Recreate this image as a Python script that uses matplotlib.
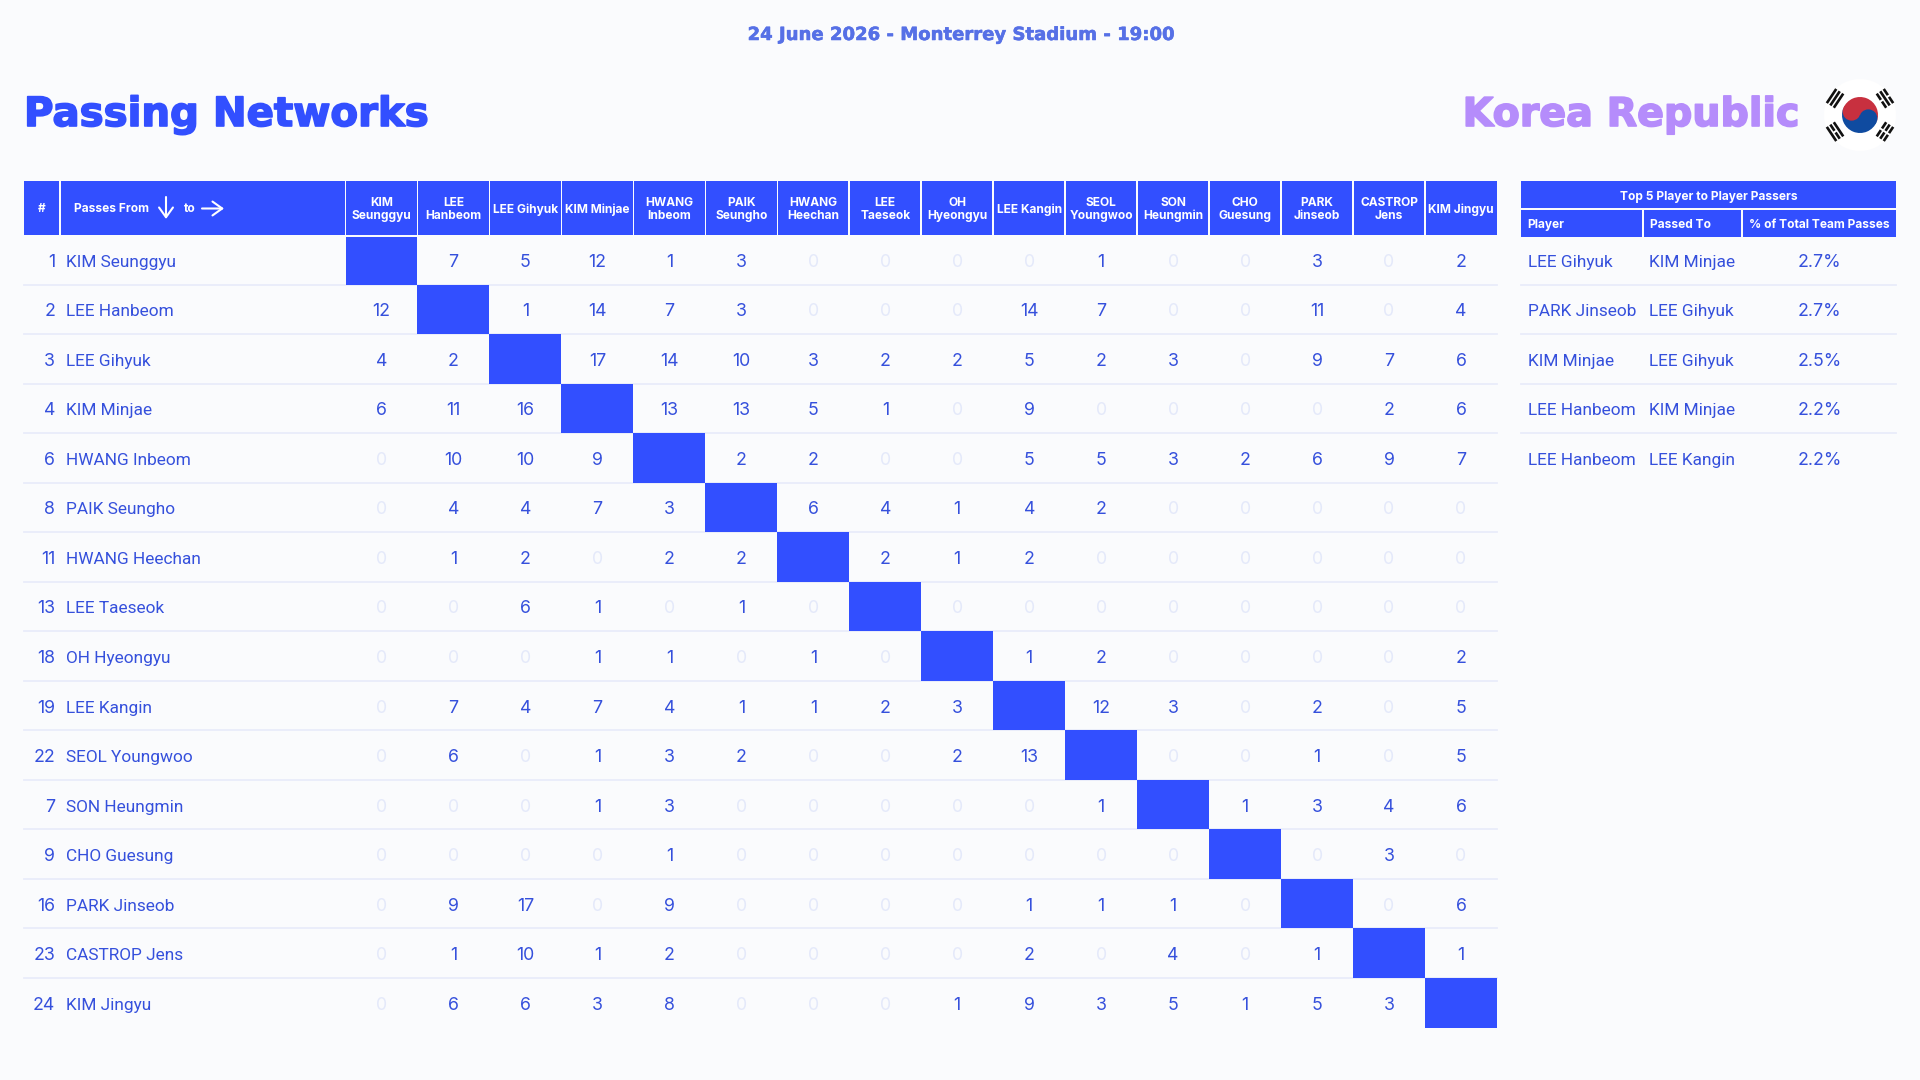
import numpy as np
import matplotlib
matplotlib.use("Agg")
import matplotlib.pyplot as plt
import matplotlib.patheffects as pe
from matplotlib.patches import Rectangle, Circle, Wedge

numbers = [1, 2, 3, 4, 6, 8, 11, 13, 18, 19, 22, 7, 9, 16, 23, 24]
players = ["KIM Seunggyu", "LEE Hanbeom", "LEE Gihyuk", "KIM Minjae", "HWANG Inbeom", "PAIK Seungho",
           "HWANG Heechan", "LEE Taeseok", "OH Hyeongyu", "LEE Kangin", "SEOL Youngwoo", "SON Heungmin",
           "CHO Guesung", "PARK Jinseob", "CASTROP Jens", "KIM Jingyu"]
column_labels = ["KIM\nSeunggyu", "LEE\nHanbeom", "LEE Gihyuk", "KIM Minjae", "HWANG\nInbeom", "PAIK\nSeungho",
                 "HWANG\nHeechan", "LEE\nTaeseok", "OH\nHyeongyu", "LEE Kangin", "SEOL\nYoungwoo", "SON\nHeungmin",
                 "CHO\nGuesung", "PARK\nJinseob", "CASTROP\nJens", "KIM Jingyu"]
N = None
passes = [
    [N, 7, 5, 12, 1, 3, 0, 0, 0, 0, 1, 0, 0, 3, 0, 2],
    [12, N, 1, 14, 7, 3, 0, 0, 0, 14, 7, 0, 0, 11, 0, 4],
    [4, 2, N, 17, 14, 10, 3, 2, 2, 5, 2, 3, 0, 9, 7, 6],
    [6, 11, 16, N, 13, 13, 5, 1, 0, 9, 0, 0, 0, 0, 2, 6],
    [0, 10, 10, 9, N, 2, 2, 0, 0, 5, 5, 3, 2, 6, 9, 7],
    [0, 4, 4, 7, 3, N, 6, 4, 1, 4, 2, 0, 0, 0, 0, 0],
    [0, 1, 2, 0, 2, 2, N, 2, 1, 2, 0, 0, 0, 0, 0, 0],
    [0, 0, 6, 1, 0, 1, 0, N, 0, 0, 0, 0, 0, 0, 0, 0],
    [0, 0, 0, 1, 1, 0, 1, 0, N, 1, 2, 0, 0, 0, 0, 2],
    [0, 7, 4, 7, 4, 1, 1, 2, 3, N, 12, 3, 0, 2, 0, 5],
    [0, 6, 0, 1, 3, 2, 0, 0, 2, 13, N, 0, 0, 1, 0, 5],
    [0, 0, 0, 1, 3, 0, 0, 0, 0, 0, 1, N, 1, 3, 4, 6],
    [0, 0, 0, 0, 1, 0, 0, 0, 0, 0, 0, 0, N, 0, 3, 0],
    [0, 9, 17, 0, 9, 0, 0, 0, 0, 1, 1, 1, 0, N, 0, 6],
    [0, 1, 10, 1, 2, 0, 0, 0, 0, 2, 0, 4, 0, 1, N, 1],
    [0, 6, 6, 3, 8, 0, 0, 0, 1, 9, 3, 5, 1, 5, 3, N],
]
top_from = ["LEE Gihyuk", "PARK Jinseob", "KIM Minjae", "LEE Hanbeom", "LEE Hanbeom"]
top_to = ["KIM Minjae", "LEE Gihyuk", "LEE Gihyuk", "KIM Minjae", "LEE Kangin"]
top_pct = ["2.7%", "2.7%", "2.5%", "2.2%", "2.2%"]

BG = "#FAFBFD"; BLUE = "#324FFF"; TEXT = "#3550DC"; ZERO = "#E4E9FA"; LINE = "#E9ECFA"; LILAC = "#B58CFB"
plt.rcParams["font.family"] = ["Inter", "DejaVu Sans"]
NAME_FONT = ["Roboto", "DejaVu Sans"]
NAME_SIZE = 12.4

fig = plt.figure(figsize=(19.2, 10.8), dpi=100, facecolor=BG)
ax = fig.add_axes([0, 0, 1, 1])
ax.set_xlim(0, 1920); ax.set_ylim(1080, 0); ax.axis("off")

L, C1, C2, R = 24, 60, 345.5, 1497
HT, HB, RB = 181, 235, 1027.5
cw = (R - C2) / 16
rh = (RB - HB) / 16
DY = 2.5

def hdr(x0, x1, y0, y1):
    ax.add_patch(Rectangle((x0, y0), x1 - x0, y1 - y0, fc=BLUE, ec="none", zorder=2))

# main header
hdr(L, C1 - 0.8, HT, HB); hdr(C1 + 0.8, C2 - 0.8, HT, HB)
ax.text((L + C1) / 2, 209.5, "#", color="white", fontsize=8.5, fontweight="bold", ha="center", va="center", zorder=3)
ax.text(73.5, 209, "Passes From", color="white", fontsize=8.6, fontweight="bold", ha="left", va="center", zorder=3)
ax.text(183.5, 209, "to", color="white", fontsize=8.6, fontweight="bold", ha="left", va="center", zorder=3)
ap = dict(arrowstyle="->,head_length=0.7,head_width=0.5", color="white", lw=1.5, shrinkA=0, shrinkB=0)
ax.annotate("", xy=(166, 219), xytext=(166, 197), arrowprops=ap, zorder=3)
ax.annotate("", xy=(224, 208.5), xytext=(202, 208.5), arrowprops=ap, zorder=3)

for j, lab in enumerate(column_labels):
    x0 = C2 + j * cw
    hdr(x0 + (0.8 if j else 0), x0 + cw - (0.8 if j < 15 else 0), HT, HB)
    ax.text(x0 + cw / 2, 209.5, lab, color="white", fontsize=8.6, fontweight="bold", ha="center", va="center",
            linespacing=1.15, zorder=3)

# rows
for i, row in enumerate(passes):
    yc = HB + (i + 0.5) * rh + DY
    if i < 15:
        ax.plot([L, R], [HB + (i + 1) * rh] * 2, color=LINE, lw=1.3, zorder=1)
    ax.text(55, yc, str(numbers[i]), color=TEXT, fontsize=12.8, ha="right", va="center", zorder=3)
    ax.text(66.5, yc, players[i], color=TEXT, fontsize=NAME_SIZE, family=NAME_FONT, ha="left", va="center", zorder=3)
    for j, v in enumerate(row):
        xc = C2 + (j + 0.5) * cw
        if v is None:
            ax.add_patch(Rectangle((C2 + j * cw, HB + i * rh + (1.5 if i == 0 else 0)), cw, rh - (1.5 if i == 0 else 0),
                                   fc=BLUE, ec="none", zorder=2))
        else:
            ax.text(xc, yc, str(v), color=ZERO if v == 0 else TEXT, fontsize=12.8, ha="center", va="center", zorder=3)

# right table
TL, TC1, TC2, TR = 1521, 1643, 1742, 1896
hdr(TL, TR, 181, 207.7)
ax.text((TL + TR) / 2, 197, "Top 5 Player to Player Passers", color="white", fontsize=8.6, fontweight="bold",
        ha="center", va="center", zorder=3)
hdr(TL, TC1 - 0.8, 210, 237); hdr(TC1 + 0.8, TC2 - 0.8, 210, 237); hdr(TC2 + 0.8, TR, 210, 237)
ax.text(1527.5, 225, "Player", color="white", fontsize=8.6, fontweight="bold", ha="left", va="center", zorder=3)
ax.text(1650, 225, "Passed To", color="white", fontsize=8.6, fontweight="bold", ha="left", va="center", zorder=3)
ax.text(1819.5, 225, "% of Total Team Passes", color="white", fontsize=8.6, fontweight="bold", ha="center", va="center", zorder=3)
for i in range(5):
    yc = HB + (i + 0.5) * rh + DY
    if i < 4:
        ax.plot([TL, TR], [HB + (i + 1) * rh] * 2, color=LINE, lw=1.3, zorder=1)
    ax.text(1527.5, yc, top_from[i], color=TEXT, fontsize=NAME_SIZE, family=NAME_FONT, ha="left", va="center", zorder=3)
    ax.text(1649, yc, top_to[i], color=TEXT, fontsize=NAME_SIZE, family=NAME_FONT, ha="left", va="center", zorder=3)
    ax.text(1819.5, yc, top_pct[i], color=TEXT, fontsize=12.8, ha="center", va="center", zorder=3)

# titles
def thick(c, w):
    return [pe.withStroke(linewidth=w, foreground=c)]

ax.text(960, 35, "24 June 2026 - Monterrey Stadium - 19:00", color="#5670E6", fontsize=13, fontweight="bold",
        family="DejaVu Sans", ha="center", va="center", path_effects=thick("#5670E6", 0.4))
ax.text(24, 115, "Passing Networks", color=BLUE, fontsize=29, fontweight="bold", family="DejaVu Sans",
        ha="left", va="center", path_effects=thick(BLUE, 1.2))
ax.text(1800, 115, "Korea Republic", color=LILAC, fontsize=28.5, fontweight="bold", family="DejaVu Sans",
        ha="right", va="center", path_effects=thick(LILAC, 1.2))

# flag
fx, fy = 1860, 115
RED = "#C8303F"; NAVY = "#0F4BA0"
ax.add_patch(Circle((fx, fy), 36, fc="white", ec="none", zorder=2))
r = 18
tilt = 22
ct, st = np.cos(np.radians(tilt)), np.sin(np.radians(tilt))
ax.add_patch(Wedge((fx, fy), r, 180 + tilt, 360 + tilt, fc=RED, ec="none", zorder=3))
ax.add_patch(Wedge((fx, fy), r, tilt, 180 + tilt, fc=NAVY, ec="none", zorder=3))
ax.add_patch(Circle((fx - r / 2 * ct, fy - r / 2 * st), r / 2, fc=RED, ec="none", zorder=4))
ax.add_patch(Circle((fx + r / 2 * ct, fy + r / 2 * st), r / 2, fc=NAVY, ec="none", zorder=4))
diag = np.degrees(np.arctan2(2, 3))
for ang, breaks in [(180 + diag, (0, 0, 0)), (-diag, (1, 0, 1)), (180 - diag, (0, 1, 0)), (diag, (1, 1, 1))]:
    ca, sa = np.cos(np.radians(ang)), np.sin(np.radians(ang))
    for k, br in enumerate(breaks):
        d = 30 + (k - 1) * 4.2
        cx, cy = fx + d * ca, fy + d * sa
        tx, ty = -sa, ca
        spans = [(-8.5, -1), (1, 8.5)] if br else [(-8.5, 8.5)]
        for a, b in spans:
            ax.plot([cx + a * tx, cx + b * tx], [cy + a * ty, cy + b * ty], color="#111111", lw=1.9,
                    solid_capstyle="butt", zorder=3)

fig.savefig("out.png", dpi=100, facecolor=BG)
